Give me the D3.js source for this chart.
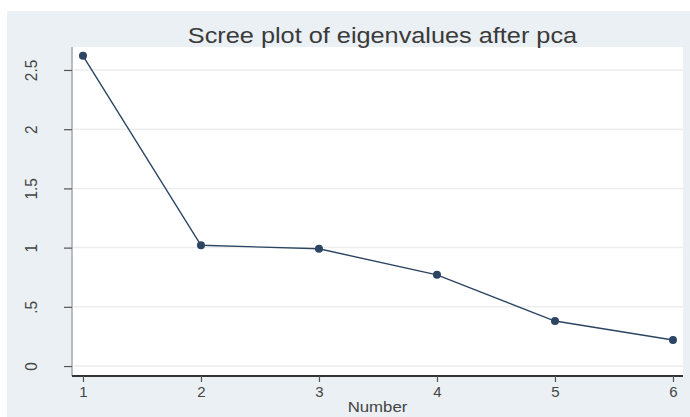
<!DOCTYPE html>
<meta charset="utf-8">
<style>
  body { margin: 0; background: #fff; }
  svg { display: block; font-family: Arial, "Liberation Sans", sans-serif; }
</style>
<script src="https://d3js.org/d3.v7.min.js"></script>
<div id="chart"></div>
<script>

// eigenvalues
var components = [1, 2, 3, 4, 5, 6];
var eigenvalues = [2.62, 1.02, 0.99, 0.77, 0.38, 0.22];
var yTicks = [0, 0.5, 1, 1.5, 2, 2.5];
var yTickLabels = ["0", ".5", "1", "1.5", "2", "2.5"];

var W = 690, H = 417;
var plot = {left: 72, right: 683, top: 47, bottom: 376};

var svg = d3.select("#chart").append("svg")
    .attr("width", W)
    .attr("height", H);

// graph region background (Stata s2color)
svg.append("rect")
    .attr("x", 7).attr("y", 11)
    .attr("width", W - 7).attr("height", H - 11)
    .attr("fill", "#eaf0f3");

svg.append("rect")
    .attr("x", plot.left).attr("y", plot.top)
    .attr("width", plot.right - plot.left)
    .attr("height", plot.bottom - plot.top)
    .attr("fill", "#fff");

var x = d3.scaleLinear()
    .domain([0.907, 6.085])
    .range([plot.left, plot.right]);

var y = d3.scaleLinear()
    .domain([-0.084, 2.694])
    .range([plot.bottom, plot.top]);

// horizontal grid
svg.append("g")
  .selectAll("line")
  .data(yTicks)
  .enter().append("line")
    .attr("x1", plot.left).attr("x2", plot.right)
    .attr("y1", function(d) { return y(d); })
    .attr("y2", function(d) { return y(d); })
    .attr("stroke", "#ededed")
    .attr("stroke-width", 1.5);

// y axis
var yAxis = svg.append("g")
    .attr("transform", "translate(" + plot.left + ",0)")
    .call(d3.axisLeft(y)
      .tickValues(yTicks)
      .tickFormat(function(d, i) { return yTickLabels[i]; })
      .tickSize(8)
      .tickPadding(0)
      .tickSizeOuter(0));
yAxis.select(".domain").attr("stroke", "#b8bcbf").attr("stroke-width", 2)
    .attr("d", "M0," + plot.top + "V" + plot.bottom);
yAxis.selectAll(".tick line").attr("stroke", "#555").attr("stroke-width", 1.2);
yAxis.selectAll(".tick text")
    .attr("x", 0).attr("dy", 0)
    .attr("transform", "translate(-41,0) rotate(-90) scale(1.1,1.15)")
    .attr("text-anchor", "middle")
    .attr("dominant-baseline", "central")
    .attr("fill", "#444")
    .style("font-size", "14px");

// x axis
var xAxis = svg.append("g")
    .attr("transform", "translate(0," + plot.bottom + ")")
    .call(d3.axisBottom(x)
      .tickValues(components)
      .tickFormat(d3.format("d"))
      .tickSize(6)
      .tickPadding(4)
      .tickSizeOuter(0));
xAxis.select(".domain").attr("stroke", "#333").attr("stroke-width", 2)
    .attr("d", "M" + plot.left + ",0H" + plot.right);
xAxis.selectAll(".tick line").attr("stroke", "#555").attr("stroke-width", 1.2);
xAxis.selectAll(".tick text")
    .attr("fill", "#444")
    .style("font-size", "15px");

// line + markers
var line = d3.line()
    .x(function(d, i) { return x(components[i]); })
    .y(function(d) { return y(d); });

svg.append("path")
    .datum(eigenvalues)
    .attr("d", line)
    .attr("fill", "none")
    .attr("stroke", "#2c4563")
    .attr("stroke-width", 1.4);

svg.selectAll(".pt")
  .data(eigenvalues)
  .enter().append("circle")
    .attr("class", "pt")
    .attr("cx", function(d, i) { return x(components[i]); })
    .attr("cy", function(d) { return y(d); })
    .attr("r", 4)
    .attr("fill", "#2c4563");

// titles (source image is stretched horizontally)
svg.append("text")
    .attr("transform", "translate(" + ((plot.left + plot.right) / 2 + 5) + ",43) scale(1.15,1)")
    .attr("text-anchor", "middle")
    .attr("fill", "#3a3a3a")
    .style("font-size", "22px")
    .text("Scree plot of eigenvalues after pca");

svg.append("text")
    .attr("transform", "translate(" + ((plot.left + plot.right) / 2) + ",412) scale(1.2,1)")
    .attr("text-anchor", "middle")
    .attr("fill", "#444")
    .style("font-size", "14px")
    .text("Number");

</script>
